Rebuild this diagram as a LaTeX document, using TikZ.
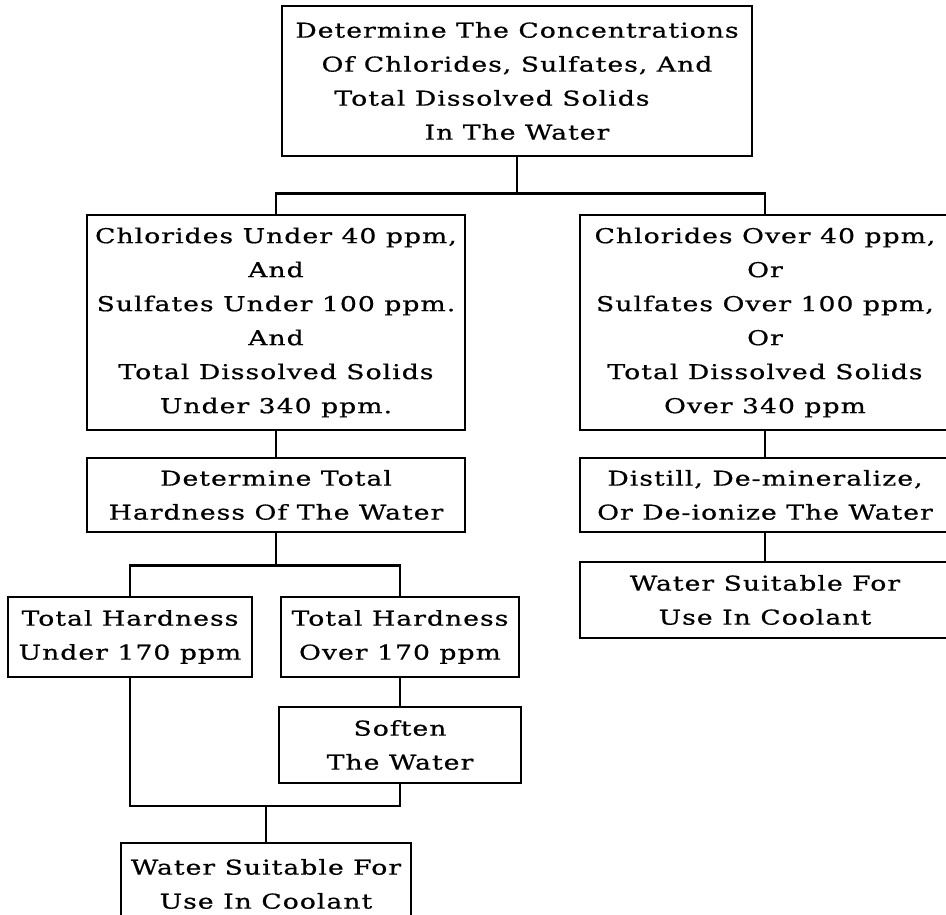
\documentclass[tikz,border=0pt]{standalone}
\usepackage{fontspec}
\setmainfont[FakeStretch=1.3, LetterSpace=5, FakeBold=0.7]{DejaVu Serif}
\usetikzlibrary{calc}

\begin{document}
\begin{tikzpicture}[x=1pt, y=-1pt,
  stage/.style={draw, line width=2.6pt, inner sep=0pt, align=center,
    font=\fontsize{20.5}{34}\selectfont},
  link/.style={line width=2.6pt}]
\clip (0,0) rectangle (946,915);

\node[stage, minimum width=470, minimum height=150](test) at (517,81)
  {Determine The Concentrations\\Of Chlorides, Sulfates, And\\
   Total Dissolved Solids\hspace*{50pt}\null\\In The Water};

\node[stage, minimum width=378, minimum height=215](lowsalt) at (276,322.5)
  {Chlorides Under 40 ppm,\\And\\Sulfates Under 100 ppm.\\And\\
   Total Dissolved Solids\\Under 340 ppm.};
\node[stage, minimum width=370, minimum height=215](highsalt) at (765,322.5)
  {Chlorides Over 40 ppm,\\Or\\Sulfates Over 100 ppm,\\Or\\
   Total Dissolved Solids\\Over 340 ppm};

\node[stage, minimum width=378, minimum height=74](hardtest) at (276,495)
  {Determine Total\\Hardness Of The Water};
\node[stage, minimum width=370, minimum height=74](distill) at (765,495)
  {Distill, De-mineralize,\\Or De-ionize The Water};
\node[stage, minimum width=370, minimum height=76](okright) at (765,600)
  {Water Suitable For\\Use In Coolant};

\node[stage, minimum width=244, minimum height=80](soft) at (130,637)
  {Total Hardness\\Under 170 ppm};
\node[stage, minimum width=238, minimum height=80](hard) at (400,637)
  {Total Hardness\\Over 170 ppm};
\node[stage, minimum width=242, minimum height=76](soften) at (400,745)
  {Soften\\The Water};
\node[stage, minimum width=290, minimum height=82](okleft) at (266,884)
  {Water Suitable For\\Use In Coolant};

\path (test.south) ++(0,36) coordinate (fork1);
\path (hardtest.south) ++(0,32) coordinate (fork2);
\coordinate (merge) at (266,806);

\draw[link] (test.south) -- (fork1);
\draw[link] (lowsalt.north) |- (fork1) -| (highsalt.north);
\draw[link] (lowsalt) -- (hardtest);
\draw[link] (highsalt) -- (distill);
\draw[link] (distill) -- (okright);
\draw[link] (hardtest.south) -- (fork2);
\draw[link] (soft.north) |- (fork2) -| (hard.north);
\draw[link] (hard) -- (soften);
\draw[link] (soft.south) |- (merge) -| (soften.south);
\draw[link] (merge) -- (okleft.north);
\end{tikzpicture}
\end{document}
